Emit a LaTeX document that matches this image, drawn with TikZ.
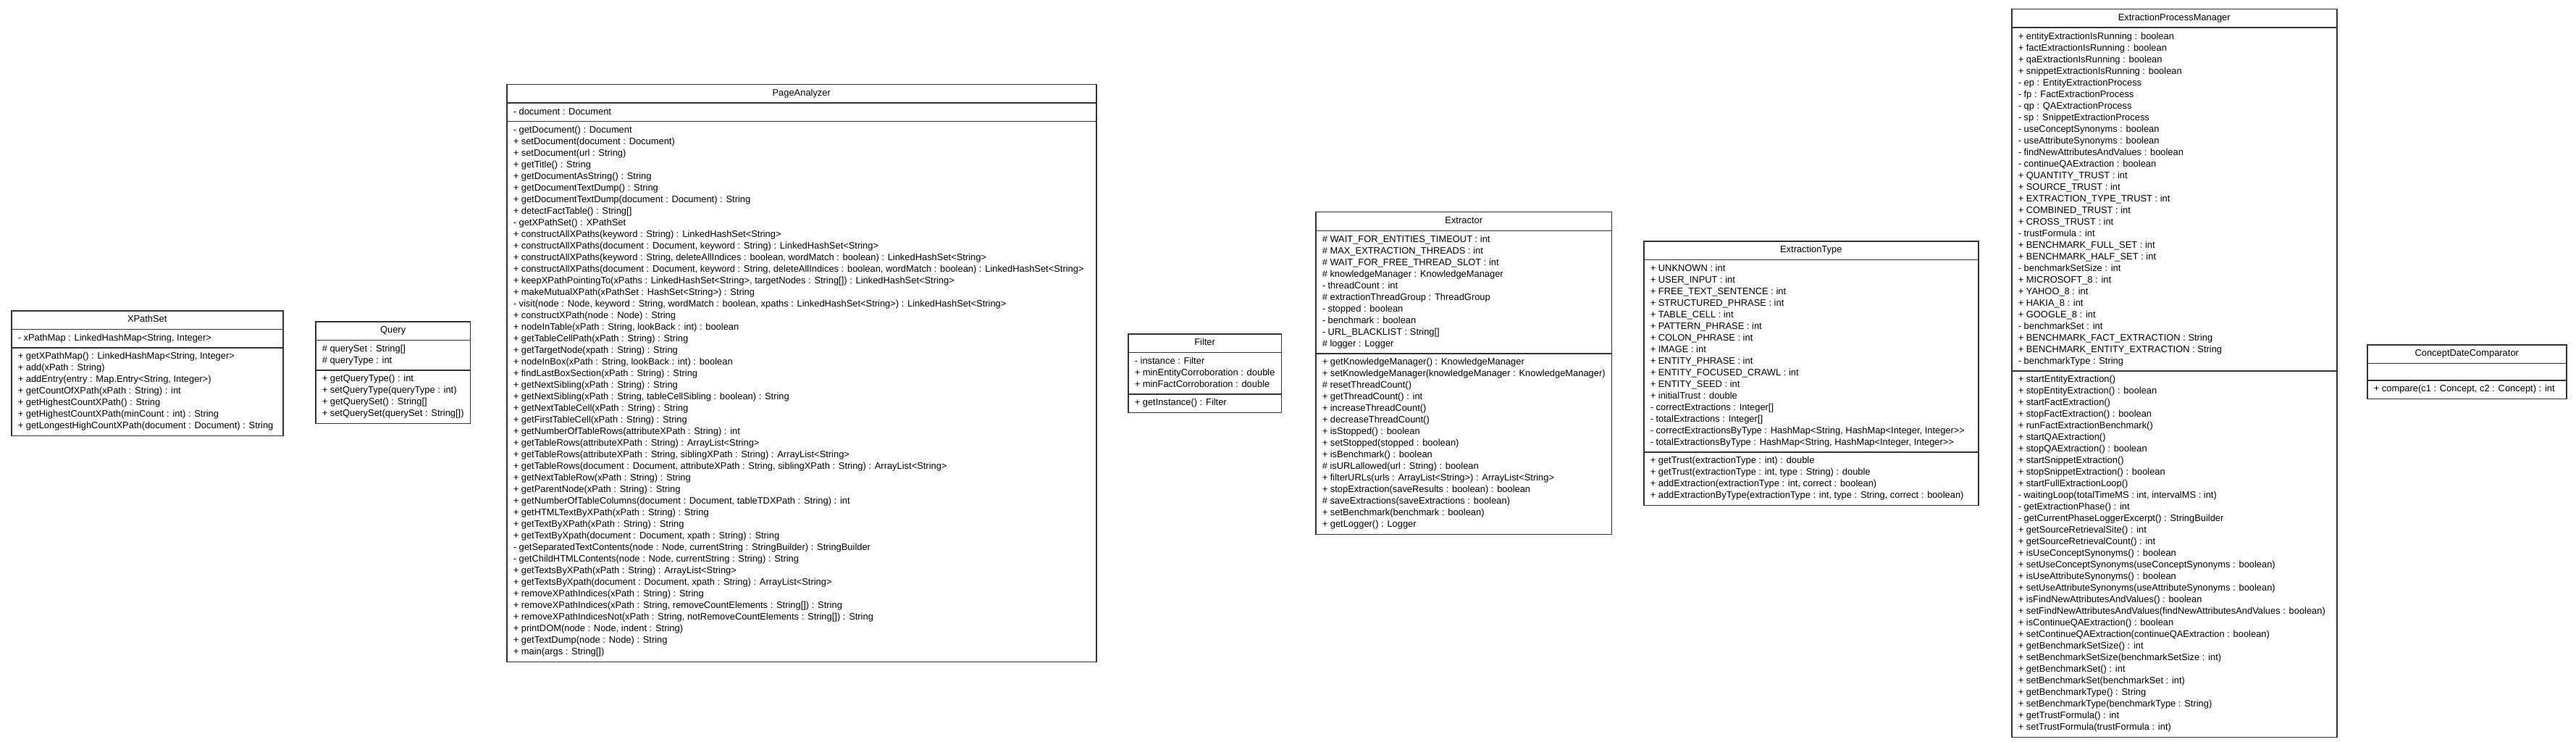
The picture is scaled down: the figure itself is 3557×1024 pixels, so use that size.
\documentclass[tikz,border=0pt]{standalone}
\usepackage{fontspec}
\setmainfont{Liberation Sans}
\usetikzlibrary{shapes.multipart}
\definecolor{linecolor}{HTML}{333333}

\newcommand{\umlfont}{\fontsize{12.9}{16}\selectfont}
\newcommand{\umlrows}[1]{{\umlfont\begin{tabular}{@{}l@{}}#1\end{tabular}}}

\begin{document}
\begin{tikzpicture}[x=1pt, y=-1pt,
    umlclass/.style={draw=linecolor, line width=1.5pt, fill=white,
      rectangle split, rectangle split parts=3,
      rectangle split part align={center,left,left},
      inner xsep=9pt, inner ysep=4pt, anchor=north west, font=\umlfont}
]
  % Fix the size of the picture
  \path[use as bounding box, fill=white] (0,0) rectangle (3557,1024);

  % XPathSet
  \node[umlclass, minimum width=375pt] (xpathset) at (15,428) {\umlrows{XPathSet}
    \nodepart{second}\umlrows{- xPathMap : LinkedHashMap<String, Integer>}
    \nodepart{third}\umlrows{+ getXPathMap() : LinkedHashMap<String, Integer>\\
      + add(xPath : String)\\
      + addEntry(entry : Map.Entry<String, Integer>)\\
      + getCountOfXPath(xPath : String) : int\\
      + getHighestCountXPath() : String\\
      + getHighestCountXPath(minCount : int) : String\\
      + getLongestHighCountXPath(document : Document) : String}};

  % Query
  \node[umlclass] (query) at (435,443) {\umlrows{Query}
    \nodepart{second}\umlrows{\# querySet : String[]\\
      \# queryType : int}
    \nodepart{third}\umlrows{+ getQueryType() : int\\
      + setQueryType(queryType : int)\\
      + getQuerySet() : String[]\\
      + setQuerySet(querySet : String[])}};

  % PageAnalyzer
  \node[umlclass, minimum width=814pt] (pageanalyzer) at (699,116) {\umlrows{PageAnalyzer}
    \nodepart{second}\umlrows{- document : Document}
    \nodepart{third}\umlrows{- getDocument() : Document\\
      + setDocument(document : Document)\\
      + setDocument(url : String)\\
      + getTitle() : String\\
      + getDocumentAsString() : String\\
      + getDocumentTextDump() : String\\
      + getDocumentTextDump(document : Document) : String\\
      + detectFactTable() : String[]\\
      - getXPathSet() : XPathSet\\
      + constructAllXPaths(keyword : String) : LinkedHashSet<String>\\
      + constructAllXPaths(document : Document, keyword : String) : LinkedHashSet<String>\\
      + constructAllXPaths(keyword : String, deleteAllIndices : boolean, wordMatch : boolean) : LinkedHashSet<String>\\
      + constructAllXPaths(document : Document, keyword : String, deleteAllIndices : boolean, wordMatch : boolean) : LinkedHashSet<String>\\
      + keepXPathPointingTo(xPaths : LinkedHashSet<String>, targetNodes : String[]) : LinkedHashSet<String>\\
      + makeMutualXPath(xPathSet : HashSet<String>) : String\\
      - visit(node : Node, keyword : String, wordMatch : boolean, xpaths : LinkedHashSet<String>) : LinkedHashSet<String>\\
      + constructXPath(node : Node) : String\\
      + nodeInTable(xPath : String, lookBack : int) : boolean\\
      + getTableCellPath(xPath : String) : String\\
      + getTargetNode(xpath : String) : String\\
      + nodeInBox(xPath : String, lookBack : int) : boolean\\
      + findLastBoxSection(xPath : String) : String\\
      + getNextSibling(xPath : String) : String\\
      + getNextSibling(xPath : String, tableCellSibling : boolean) : String\\
      + getNextTableCell(xPath : String) : String\\
      + getFirstTableCell(xPath : String) : String\\
      + getNumberOfTableRows(attributeXPath : String) : int\\
      + getTableRows(attributeXPath : String) : ArrayList<String>\\
      + getTableRows(attributeXPath : String, siblingXPath : String) : ArrayList<String>\\
      + getTableRows(document : Document, attributeXPath : String, siblingXPath : String) : ArrayList<String>\\
      + getNextTableRow(xPath : String) : String\\
      + getParentNode(xPath : String) : String\\
      + getNumberOfTableColumns(document : Document, tableTDXPath : String) : int\\
      + getHTMLTextByXPath(xPath : String) : String\\
      + getTextByXPath(xPath : String) : String\\
      + getTextByXpath(document : Document, xpath : String) : String\\
      - getSeparatedTextContents(node : Node, currentString : StringBuilder) : StringBuilder\\
      - getChildHTMLContents(node : Node, currentString : String) : String\\
      + getTextsByXPath(xPath : String) : ArrayList<String>\\
      + getTextsByXpath(document : Document, xpath : String) : ArrayList<String>\\
      + removeXPathIndices(xPath : String) : String\\
      + removeXPathIndices(xPath : String, removeCountElements : String[]) : String\\
      + removeXPathIndicesNot(xPath : String, notRemoveCountElements : String[]) : String\\
      + printDOM(node : Node, indent : String)\\
      + getTextDump(node : Node) : String\\
      + main(args : String[])}};

  % Filter
  \node[umlclass, minimum width=211pt] (filter) at (1557,460) {\umlrows{Filter}
    \nodepart{second}\umlrows{- instance : Filter\\
      + minEntityCorroboration : double\\
      + minFactCorroboration : double}
    \nodepart{third}\umlrows{+ getInstance() : Filter}};

  % Extractor
  \node[umlclass, minimum width=408pt] (extractor) at (1816,292) {\umlrows{Extractor}
    \nodepart{second}\umlrows{\# WAIT\_FOR\_ENTITIES\_TIMEOUT : int\\
      \# MAX\_EXTRACTION\_THREADS : int\\
      \# WAIT\_FOR\_FREE\_THREAD\_SLOT : int\\
      \# knowledgeManager : KnowledgeManager\\
      - threadCount : int\\
      \# extractionThreadGroup : ThreadGroup\\
      - stopped : boolean\\
      - benchmark : boolean\\
      - URL\_BLACKLIST : String[]\\
      \# logger : Logger}
    \nodepart{third}\umlrows{+ getKnowledgeManager() : KnowledgeManager\\
      + setKnowledgeManager(knowledgeManager : KnowledgeManager)\\
      \# resetThreadCount()\\
      + getThreadCount() : int\\
      + increaseThreadCount()\\
      + decreaseThreadCount()\\
      + isStopped() : boolean\\
      + setStopped(stopped : boolean)\\
      + isBenchmark() : boolean\\
      \# isURLallowed(url : String) : boolean\\
      + filterURLs(urls : ArrayList<String>) : ArrayList<String>\\
      + stopExtraction(saveResults : boolean) : boolean\\
      \# saveExtractions(saveExtractions : boolean)\\
      + setBenchmark(benchmark : boolean)\\
      + getLogger() : Logger}};

  % ExtractionType
  \node[umlclass, minimum width=462pt] (extractiontype) at (2269,332) {\umlrows{ExtractionType}
    \nodepart{second}\umlrows{+ UNKNOWN : int\\
      + USER\_INPUT : int\\
      + FREE\_TEXT\_SENTENCE : int\\
      + STRUCTURED\_PHRASE : int\\
      + TABLE\_CELL : int\\
      + PATTERN\_PHRASE : int\\
      + COLON\_PHRASE : int\\
      + IMAGE : int\\
      + ENTITY\_PHRASE : int\\
      + ENTITY\_FOCUSED\_CRAWL : int\\
      + ENTITY\_SEED : int\\
      + initialTrust : double\\
      - correctExtractions : Integer[]\\
      - totalExtractions : Integer[]\\
      - correctExtractionsByType : HashMap<String, HashMap<Integer, Integer>{}>\\
      - totalExtractionsByType : HashMap<String, HashMap<Integer, Integer>{}>}
    \nodepart{third}\umlrows{+ getTrust(extractionType : int) : double\\
      + getTrust(extractionType : int, type : String) : double\\
      + addExtraction(extractionType : int, correct : boolean)\\
      + addExtractionByType(extractionType : int, type : String, correct : boolean)}};

  % ExtractionProcessManager
  \node[umlclass, minimum width=449pt] (processmanager) at (2777,12) {\umlrows{ExtractionProcessManager}
    \nodepart{second}\umlrows{+ entityExtractionIsRunning : boolean\\
      + factExtractionIsRunning : boolean\\
      + qaExtractionIsRunning : boolean\\
      + snippetExtractionIsRunning : boolean\\
      - ep : EntityExtractionProcess\\
      - fp : FactExtractionProcess\\
      - qp : QAExtractionProcess\\
      - sp : SnippetExtractionProcess\\
      - useConceptSynonyms : boolean\\
      - useAttributeSynonyms : boolean\\
      - findNewAttributesAndValues : boolean\\
      - continueQAExtraction : boolean\\
      + QUANTITY\_TRUST : int\\
      + SOURCE\_TRUST : int\\
      + EXTRACTION\_TYPE\_TRUST : int\\
      + COMBINED\_TRUST : int\\
      + CROSS\_TRUST : int\\
      - trustFormula : int\\
      + BENCHMARK\_FULL\_SET : int\\
      + BENCHMARK\_HALF\_SET : int\\
      - benchmarkSetSize : int\\
      + MICROSOFT\_8 : int\\
      + YAHOO\_8 : int\\
      + HAKIA\_8 : int\\
      + GOOGLE\_8 : int\\
      - benchmarkSet : int\\
      + BENCHMARK\_FACT\_EXTRACTION : String\\
      + BENCHMARK\_ENTITY\_EXTRACTION : String\\
      - benchmarkType : String}
    \nodepart{third}\umlrows{+ startEntityExtraction()\\
      + stopEntityExtraction() : boolean\\
      + startFactExtraction()\\
      + stopFactExtraction() : boolean\\
      + runFactExtractionBenchmark()\\
      + startQAExtraction()\\
      + stopQAExtraction() : boolean\\
      + startSnippetExtraction()\\
      + stopSnippetExtraction() : boolean\\
      + startFullExtractionLoop()\\
      - waitingLoop(totalTimeMS : int, intervalMS : int)\\
      - getExtractionPhase() : int\\
      - getCurrentPhaseLoggerExcerpt() : StringBuilder\\
      + getSourceRetrievalSite() : int\\
      + getSourceRetrievalCount() : int\\
      + isUseConceptSynonyms() : boolean\\
      + setUseConceptSynonyms(useConceptSynonyms : boolean)\\
      + isUseAttributeSynonyms() : boolean\\
      + setUseAttributeSynonyms(useAttributeSynonyms : boolean)\\
      + isFindNewAttributesAndValues() : boolean\\
      + setFindNewAttributesAndValues(findNewAttributesAndValues : boolean)\\
      + isContinueQAExtraction() : boolean\\
      + setContinueQAExtraction(continueQAExtraction : boolean)\\
      + getBenchmarkSetSize() : int\\
      + setBenchmarkSetSize(benchmarkSetSize : int)\\
      + getBenchmarkSet() : int\\
      + setBenchmarkSet(benchmarkSet : int)\\
      + getBenchmarkType() : String\\
      + setBenchmarkType(benchmarkType : String)\\
      + getTrustFormula() : int\\
      + setTrustFormula(trustFormula : int)}};

  % ConceptDateComparator, no attributes
  \node[umlclass, minimum width=275pt] (comparator) at (3268,475) {\umlrows{ConceptDateComparator}
    \nodepart{second}\rule[-4pt]{0pt}{14pt}
    \nodepart{third}\umlrows{+ compare(c1 : Concept, c2 : Concept) : int}};
\end{tikzpicture}
\end{document}
